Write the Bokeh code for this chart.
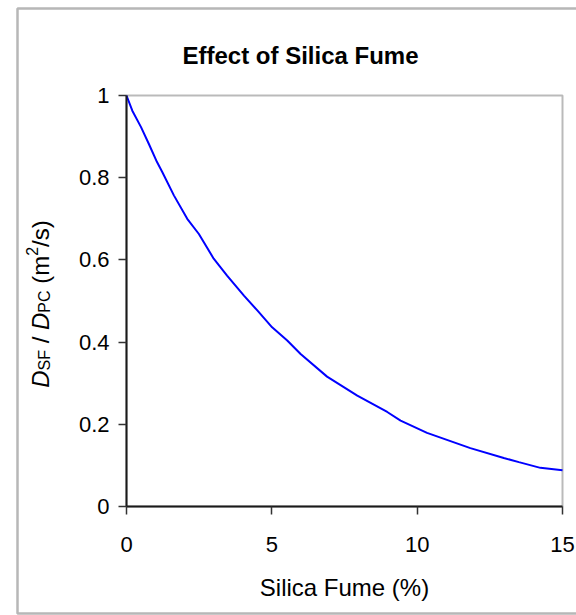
from bokeh.plotting import figure
from bokeh.models import Label, FixedTicker, BoxAnnotation, Range1d
from bokeh.embed import file_html
from bokeh.resources import INLINE

# ---- data ----
silica_fume = [0, 0.2, 0.5, 0.77, 1.05, 1.23, 1.63, 2.09, 2.49, 3.0, 3.46, 4.04, 4.5,
               5.01, 5.53, 5.99, 6.9, 7.94, 8.97, 9.43, 10.34, 11.83, 12.98, 13.5, 14.24, 15.0]
d_ratio = [1.0, 0.963, 0.923, 0.882, 0.838, 0.814, 0.757, 0.700, 0.663, 0.603, 0.562, 0.513,
           0.477, 0.436, 0.404, 0.371, 0.316, 0.270, 0.230, 0.209, 0.179, 0.142, 0.118,
           0.108, 0.094, 0.088]
x_ticks = [0, 5, 10, 15]
y_ticks = [0, 0.2, 0.4, 0.6, 0.8, 1]
y_tick_labels = ["0", "0.2", "0.4", "0.6", "0.8", "1"]
title_text = "Effect of Silica Fume"
x_label = "Silica Fume (%)"

# ---- layout (pixel positions of the plotting box inside the 576x615 canvas) ----
W_PX, H_PX = 576, 615
FL, FR, FT, FB = 126, 562, 95, 506
X0, X1, Y0, Y1 = 0, 15, 0, 1
FONT = "Liberation Sans"

def px_x(px):
    return X0 + (px - FL) / (FR - FL) * (X1 - X0)

def px_y(py):
    return Y0 + (FB - py) / (FB - FT) * (Y1 - Y0)

p = figure(width=W_PX, height=H_PX, min_border=0,
           x_range=Range1d(px_x(0), px_x(W_PX)), y_range=Range1d(px_y(H_PX), px_y(0)),
           output_backend="svg", toolbar_location=None, title_location=None)
p.background_fill_color = "white"
p.border_fill_color = "white"
p.grid.visible = False
p.outline_line_color = None
p.xaxis.fixed_location = Y0
p.yaxis.fixed_location = X0
p.xaxis.bounds = (X0, X1)
p.yaxis.bounds = (Y0, Y1)

# plotting box
p.add_layout(BoxAnnotation(left=X0, right=X1, bottom=Y0, top=Y1, fill_color=None,
                           line_color="#1a1a1a", line_width=2, level="underlay"))

p.line(silica_fume, d_ratio, line_color="#0000ff", line_width=2)

for ax in (p.xaxis[0], p.yaxis[0]):
    ax.axis_line_color = "#1a1a1a"
    ax.axis_line_width = 2
    ax.major_tick_line_color = "#333333"
    ax.major_tick_line_width = 1.5
    ax.major_tick_out = 8
    ax.major_tick_in = 0
    ax.minor_tick_line_color = None
    ax.major_label_text_font = FONT
    ax.major_label_text_font_size = "22px"
    ax.major_label_text_color = "black"

p.xaxis.ticker = FixedTicker(ticks=x_ticks)
p.yaxis.ticker = FixedTicker(ticks=y_ticks)
p.yaxis.major_label_overrides = dict(zip(y_ticks, y_tick_labels))
p.xaxis.major_label_standoff = 22
p.yaxis.major_label_standoff = 9

p.xaxis.axis_label = x_label
p.xaxis.axis_label_text_font = FONT
p.xaxis.axis_label_text_font_style = "normal"
p.xaxis.axis_label_text_font_size = "24px"
p.xaxis.axis_label_text_color = "black"
p.xaxis.axis_label_standoff = 19

# title
p.add_layout(Label(x=px_x(300), y=px_y(55), text=title_text, text_align="center",
                   text_baseline="alphabetic", text_font=FONT, text_font_style="bold",
                   text_font_size="24px", text_color="black"))

# y axis label built from pieces: D_SF / D_PC (m^2/s)
W = {"D": 722, "S": 667, "F": 611, "P": 667, "C": 722, " ": 278, "/": 278,
     "(": 333, "m": 833, "2": 556, "s": 500, ")": 333}
MAIN, SUB = 24, 16

def tw(s, size):
    return sum(W[c] for c in s) * size / 1000.0

base_x = 40
pieces = [("D", MAIN, "italic", 0), ("SF", SUB, "normal", 4), (" / ", MAIN, "normal", 0),
          ("D", MAIN, "italic", 0), ("PC", SUB, "normal", 4), (" (m", MAIN, "normal", 0),
          ("2", SUB, "normal", -9), ("/s)", MAIN, "normal", 0)]
total = sum(tw(s, sz) for s, sz, _, _ in pieces)
cur = (FT + FB) / 2 + 3 + total / 2
for s, sz, style, shift in pieces:
    lead = len(s) - len(s.lstrip(" "))
    cur -= tw(" " * lead, sz)
    core = s.strip(" ")
    p.add_layout(Label(x=px_x(base_x + shift), y=px_y(cur), text=core, angle=1.5707963267948966,
                       text_align="left", text_baseline="alphabetic", text_font=FONT,
                       text_font_style=style, text_font_size=f"{sz}px", text_color="black"))
    cur -= tw(s[lead:], sz)

# outer frame of the picture
p.add_layout(BoxAnnotation(left=px_x(17), right=px_x(600), top=px_y(8), bottom=px_y(613),
                           fill_color=None, line_color="#111111", line_width=2.5))

open("out.html", "w").write(file_html(p, INLINE))
